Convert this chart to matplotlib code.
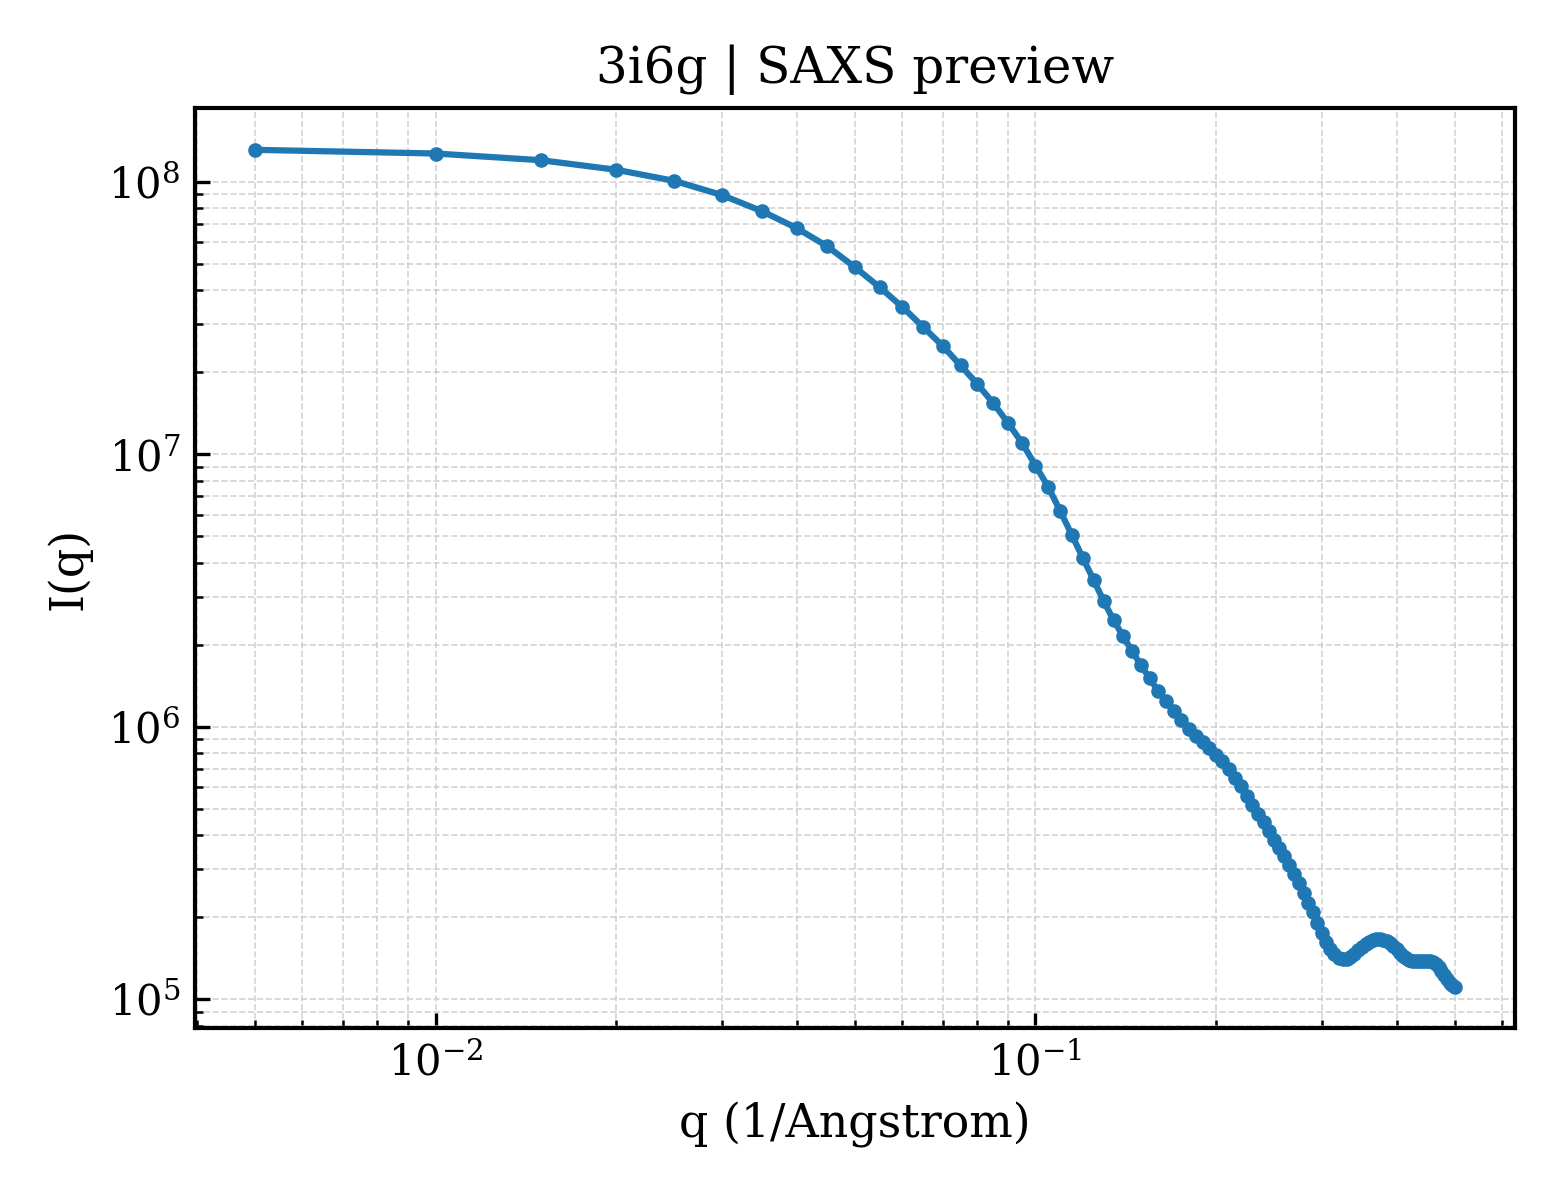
import matplotlib
matplotlib.use("Agg")
from matplotlib import pyplot as plt

plt.rcParams['font.family'] = 'DejaVu Serif'
plt.rcParams['mathtext.fontset'] = 'dejavuserif'

title = "3i6g | SAXS preview"
x_label = "q (1/Angstrom)"
y_label = "I(q)"

q = [0.005, 0.010, 0.015, 0.020, 0.025, 0.030, 0.035, 0.040, 0.045, 0.050,
     0.055, 0.060, 0.065, 0.070, 0.075, 0.080, 0.085, 0.090, 0.095, 0.100,
     0.105, 0.110, 0.115, 0.120, 0.125, 0.130, 0.135, 0.140, 0.145, 0.150,
     0.155, 0.160, 0.165, 0.170, 0.175, 0.180, 0.185, 0.190, 0.195, 0.200,
     0.205, 0.210, 0.215, 0.220, 0.225, 0.230, 0.235, 0.240, 0.245, 0.250,
     0.255, 0.260, 0.265, 0.270, 0.275, 0.280, 0.285, 0.290, 0.295, 0.300,
     0.305, 0.310, 0.315, 0.320, 0.325, 0.330, 0.335, 0.340, 0.345, 0.350,
     0.355, 0.360, 0.365, 0.370, 0.375, 0.380, 0.385, 0.390, 0.395, 0.400,
     0.405, 0.410, 0.415, 0.420, 0.425, 0.430, 0.435, 0.440, 0.445, 0.450,
     0.455, 0.460, 0.465, 0.470, 0.475, 0.480, 0.485, 0.490, 0.495, 0.500]

intensity = [1.31e8, 1.27e8, 1.20e8, 1.107e8, 1.008e8, 8.94e7, 7.8e7, 6.76e7, 5.79e7, 4.86e7,
             4.10e7, 3.47e7, 2.93e7, 2.50e7, 2.12e7, 1.81e7, 1.543e7, 1.303e7, 1.10e7, 9.09e6,
             7.59e6, 6.18e6, 5.05e6, 4.15e6, 3.46e6, 2.885e6, 2.457e6, 2.146e6, 1.89e6, 1.679e6,
             1.504e6, 1.355e6, 1.238e6, 1.138e6, 1.054e6, 9.80e5, 9.24e5, 8.75e5, 8.32e5, 7.89e5,
             7.48e5, 6.99e5, 6.49e5, 6.04e5, 5.56e5, 5.15e5, 4.77e5, 4.45e5, 4.13e5, 3.84e5,
             3.58e5, 3.34e5, 3.11e5, 2.89e5, 2.66e5, 2.46e5, 2.26e5, 2.08e5, 1.91e5, 1.75e5,
             1.62e5, 1.53e5, 1.46e5, 1.42e5, 1.40e5, 1.405e5, 1.43e5, 1.465e5, 1.51e5, 1.55e5,
             1.59e5, 1.62e5, 1.645e5, 1.66e5, 1.665e5, 1.655e5, 1.64e5, 1.605e5, 1.57e5, 1.525e5,
             1.48e5, 1.445e5, 1.415e5, 1.395e5, 1.38e5, 1.375e5, 1.375e5, 1.378e5, 1.38e5, 1.38e5,
             1.375e5, 1.365e5, 1.345e5, 1.315e5, 1.27e5, 1.225e5, 1.185e5, 1.15e5, 1.127e5, 1.112e5]

fig, ax = plt.subplots(figsize=(5.2, 4.0), dpi=300)
fig.subplots_adjust(left=0.125, right=0.971, top=0.91, bottom=0.143)

ax.plot(q, intensity, '-o', color='#1f77b4', lw=1.5, markersize=2.5)
ax.set_xscale('log')
ax.set_yscale('log')

ax.set_title(title, fontsize=12)
ax.set_xlabel(x_label, fontsize=11)
ax.set_ylabel(y_label, fontsize=11)
ax.tick_params(which='both', direction='in', labelsize=10)
for s in ax.spines.values():
    s.set_linewidth(1.0)
ax.grid(True, which='both', linestyle='--', linewidth=0.4, color='#c8c8c8', alpha=0.8)

plt.savefig('out.png', dpi=300)
